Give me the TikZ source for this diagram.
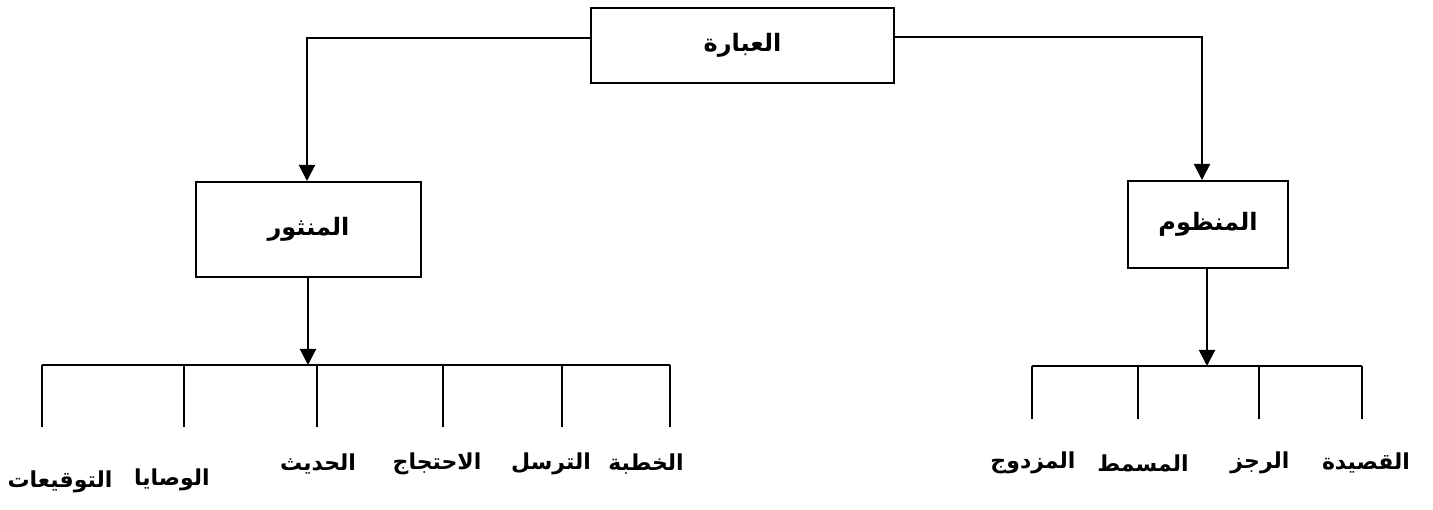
\documentclass[tikz,border=0pt]{standalone}
\usepackage{fontspec}
\usetikzlibrary{arrows.meta}
\newfontfamily\arabicfont[Script=Arabic]{DejaVu Sans}
\TeXXeTstate=1
\newcommand{\ar}[1]{{\arabicfont\bfseries\beginR #1\endR}}
\tikzset{
  line/.style={line width=2pt, line join=miter},
  arr/.style={line, -{Triangle[width=16pt,length=16pt]}},
  boxnode/.style={draw, line width=2pt, inner sep=0pt, font=\fontsize{24}{30}\selectfont},
  leaf/.style={inner sep=0pt, font=\fontsize{22}{28}\selectfont, anchor=center}
}
\begin{document}
\begin{tikzpicture}[x=1pt,y=-1pt]
\useasboundingbox (0,0) rectangle (1433,510);
% boxes
\node[boxnode, minimum width=303pt, minimum height=75pt] (top) at (742.5,45.5) {\ar{العبارة}};
\node[boxnode, minimum width=225pt, minimum height=95pt] (nathr) at (308.5,229.5) {\ar{المنثور}};
\node[boxnode, minimum width=160pt, minimum height=87pt] (nadhm) at (1208,224.5) {\ar{المنظوم}};
% top connectors
\coordinate (tl) at (307,38);
\coordinate (tr) at (1202,37);
\draw[arr] (top.west |- tl) -- (tl) -- (nathr.north -| tl);
\draw[arr] (top.east |- tr) -- (tr) -- (nadhm.north -| tr);
% left bar
\coordinate (lbar) at (308,365);
\draw[arr] (nathr.south -| lbar) -- (lbar);
\draw[line] (42,365) -- (670,365);
% right bar
\coordinate (rbar) at (1207,366);
\draw[arr] (nadhm.south -| rbar) -- (rbar);
\draw[line] (1032,366) -- (1362,366);
% left leaves
\node[leaf] (l1) at (60,482) {\ar{التوقيعات}};
\node[leaf] (l2) at (172,480) {\ar{الوصايا}};
\node[leaf] (l3) at (318,464) {\ar{الحديث}};
\node[leaf] (l4) at (437,464) {\ar{الاحتجاج}};
\node[leaf] (l5) at (551,464) {\ar{الترسل}};
\node[leaf] (l6) at (646,464) {\ar{الخطبة}};
\foreach \x/\n in {42/1,184/2,317/3,443/4,562/5,670/6}{
  \coordinate (lt\n) at (\x,427);
  \draw[line] (\x,365) -- (lt\n);
}
% right leaves
\node[leaf] (r1) at (1033,463) {\ar{المزدوج}};
\node[leaf] (r2) at (1143,463) {\ar{المسمط}};
\node[leaf] (r3) at (1260,463) {\ar{الرجز}};
\node[leaf] (r4) at (1366,463) {\ar{القصيدة}};
\foreach \x/\n in {1032/1,1138/2,1259/3,1362/4}{
  \coordinate (rt\n) at (\x,419);
  \draw[line] (\x,366) -- (rt\n);
}
\end{tikzpicture}
\end{document}
